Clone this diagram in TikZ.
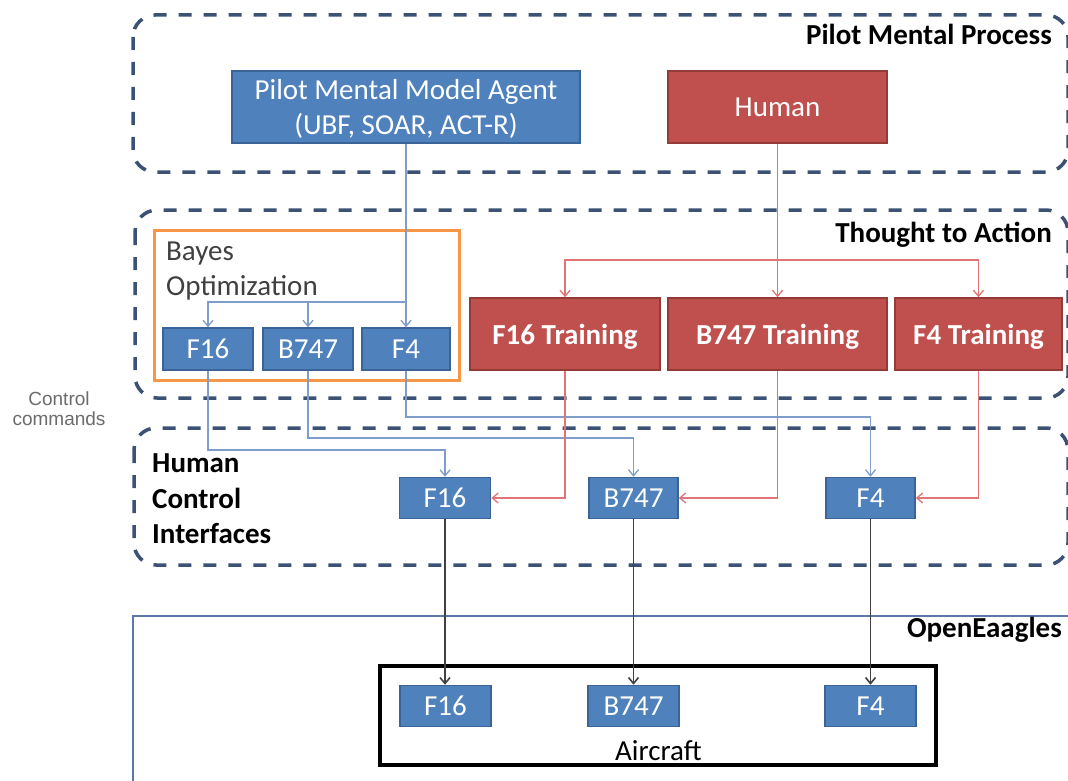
\documentclass[tikz,border=0pt]{standalone}
\usepackage{fontspec}
\setmainfont{Carlito}
\newfontfamily\arialf{Liberation Sans}
\usetikzlibrary{arrows.meta}
\definecolor{bfill}{HTML}{4F81BD}
\definecolor{bdraw}{HTML}{3A6398}
\definecolor{rfill}{HTML}{C0504D}
\definecolor{rdraw}{HTML}{943A37}
\definecolor{dashc}{HTML}{3C5274}
\definecolor{orng}{HTML}{F79646}
\definecolor{blinec}{HTML}{7E9DCB}
\definecolor{rlinec}{HTML}{E07575}
\definecolor{klinec}{HTML}{404040}
\definecolor{oelinec}{HTML}{5B79A6}
\definecolor{txtgray}{HTML}{404040}
\begin{document}
\begin{tikzpicture}[x=1pt,y=-1pt,
  every node/.style={font=\fontsize{29}{35}\selectfont, inner sep=0pt},
  bluebox/.style={draw=bdraw, fill=bfill, line width=1.5pt, text=white, minimum height=41pt, text depth=0pt, align=center},
  redbox/.style={draw=rdraw, fill=rfill, line width=1.5pt, text=white, minimum height=72pt, text depth=0pt, align=center, font=\bfseries\fontsize{29}{35}\selectfont},
  dashbox/.style={draw=dashc, line width=3.5pt, dash pattern=on 13pt off 12pt, rounded corners=22pt},
  title/.style={anchor=base east, font=\bfseries\fontsize{29}{35}\selectfont},
  tip/.style={-{Straight Barb[length=6pt,width=10pt]}},
  bcon/.style={draw=blinec, line width=1.3pt},
  rcon/.style={draw=rlinec, line width=1.3pt},
  kcon/.style={draw=klinec, line width=1.6pt}
]
\useasboundingbox (0,0) rectangle (1068,781);
\fill[white] (0,0) rectangle (1068,781);

% group frames
\draw[dashbox] (133,15) rectangle (1068,172);
\draw[dashbox] (135,210) rectangle (1068,398);
\draw[dashbox] (134,428) rectangle (1068,565);
\draw[oelinec, line width=2pt] (133,790) -- (133,616) -- (1075,616);
\draw[orng, line width=3pt] (154,230) rectangle (459,380);
\draw[black, line width=4pt] (380,666) rectangle (936,765);

% titles
\node[title] (tpmp) at (1052,45) {Pilot Mental Process};
\node[title] (tta) at (1052,242) {Thought to Action};
\node[title] (toe) at (1062,637) {OpenEaagles};
\node[anchor=base west, text=txtgray] (bay1) at (166,260) {Bayes};
\node[anchor=base west, text=txtgray] (bay2) at (166,295) {Optimization};
\node[anchor=base west, font=\bfseries\fontsize{29}{35}\selectfont] (hci1) at (152,472) {Human};
\node[anchor=base west, font=\bfseries\fontsize{29}{35}\selectfont] (hci2) at (152,508) {Control};
\node[anchor=base west, font=\bfseries\fontsize{29}{35}\selectfont] (hci3) at (152,543) {Interfaces};
\node[anchor=base, font=\arialf\fontsize{19}{20}\selectfont, text=gray!85!black] (cc1) at (59,405) {Control};
\node[anchor=base, font=\arialf\fontsize{19}{20}\selectfont, text=gray!85!black] (cc2) at (59,425) {commands};
\node[anchor=base west] (acl) at (615,760) {Aircraft};

% top level
\node[bluebox, minimum width=348pt, minimum height=72pt] (agent) at (406,107) {Pilot Mental Model Agent\\(UBF, SOAR, ACT-R)};
\node[redbox, minimum width=219pt, font=\fontsize{29}{35}\selectfont] (human) at (777.5,107) {Human};

% bayes boxes
\node[bluebox, minimum width=90pt, minimum height=42pt] (sF16) at (208,349) {F16};
\node[bluebox, minimum width=90pt, minimum height=42pt] (sB747) at (308,349) {B747};
\node[bluebox, minimum width=88pt, minimum height=42pt] (sF4) at (406,349) {F4};

% training boxes
\node[redbox, minimum width=190pt] (tF16) at (565,334) {F16 Training};
\node[redbox, minimum width=219pt] (tB747) at (777.5,334) {B747 Training};
\node[redbox, minimum width=167pt] (tF4) at (978.5,334) {F4 Training};

% control interfaces
\node[bluebox, minimum width=91pt] (hF16) at (445,498) {F16};
\node[bluebox, minimum width=89pt] (hB747) at (633.5,498) {B747};
\node[bluebox, minimum width=89pt] (hF4) at (870.5,498) {F4};

% aircraft
\node[bluebox, minimum width=91pt] (aF16) at (445.5,706) {F16};
\node[bluebox, minimum width=91pt] (aB747) at (633.5,706) {B747};
\node[bluebox, minimum width=91pt] (aF4) at (870.5,706) {F4};

% junction coordinates
\coordinate (bj) at (406,302);
\coordinate (rj) at (777.5,260);
\coordinate (y1) at (0,450);
\coordinate (y2) at (0,438);
\coordinate (y3) at (0,417);

% agent to bayes boxes
\draw[bcon, tip] (agent.south) -- (sF4.north);
\draw[bcon, tip] (bj) -| (sF16.north);
\draw[bcon, tip] (bj -| sB747.north) -- (sB747.north);

% human to training
\draw[rcon, tip] (human.south) -- (tB747.north);
\draw[rcon, tip] (rj) -| (tF16.north);
\draw[rcon, tip] (rj) -| (tF4.north);

% bayes to interfaces
\draw[bcon, tip] (sF16.south) |- (hF16.north |- y1) -- (hF16.north);
\draw[bcon, tip] (sB747.south) |- (hB747.north |- y2) -- (hB747.north);
\draw[bcon, tip] (sF4.south) |- (hF4.north |- y3) -- (hF4.north);

% training to interfaces
\draw[rcon, tip] (tF16.south) |- (hF16.east);
\draw[rcon, tip] (tB747.south) |- (hB747.east);
\draw[rcon, tip] (tF4.south) |- (hF4.east);

% interfaces to aircraft
\draw[kcon, tip] (hF16.south) -- (hF16.south |- aF16.north);
\draw[kcon, tip] (hB747.south) -- (hB747.south |- aB747.north);
\draw[kcon, tip] (hF4.south) -- (hF4.south |- aF4.north);
\end{tikzpicture}
\end{document}
